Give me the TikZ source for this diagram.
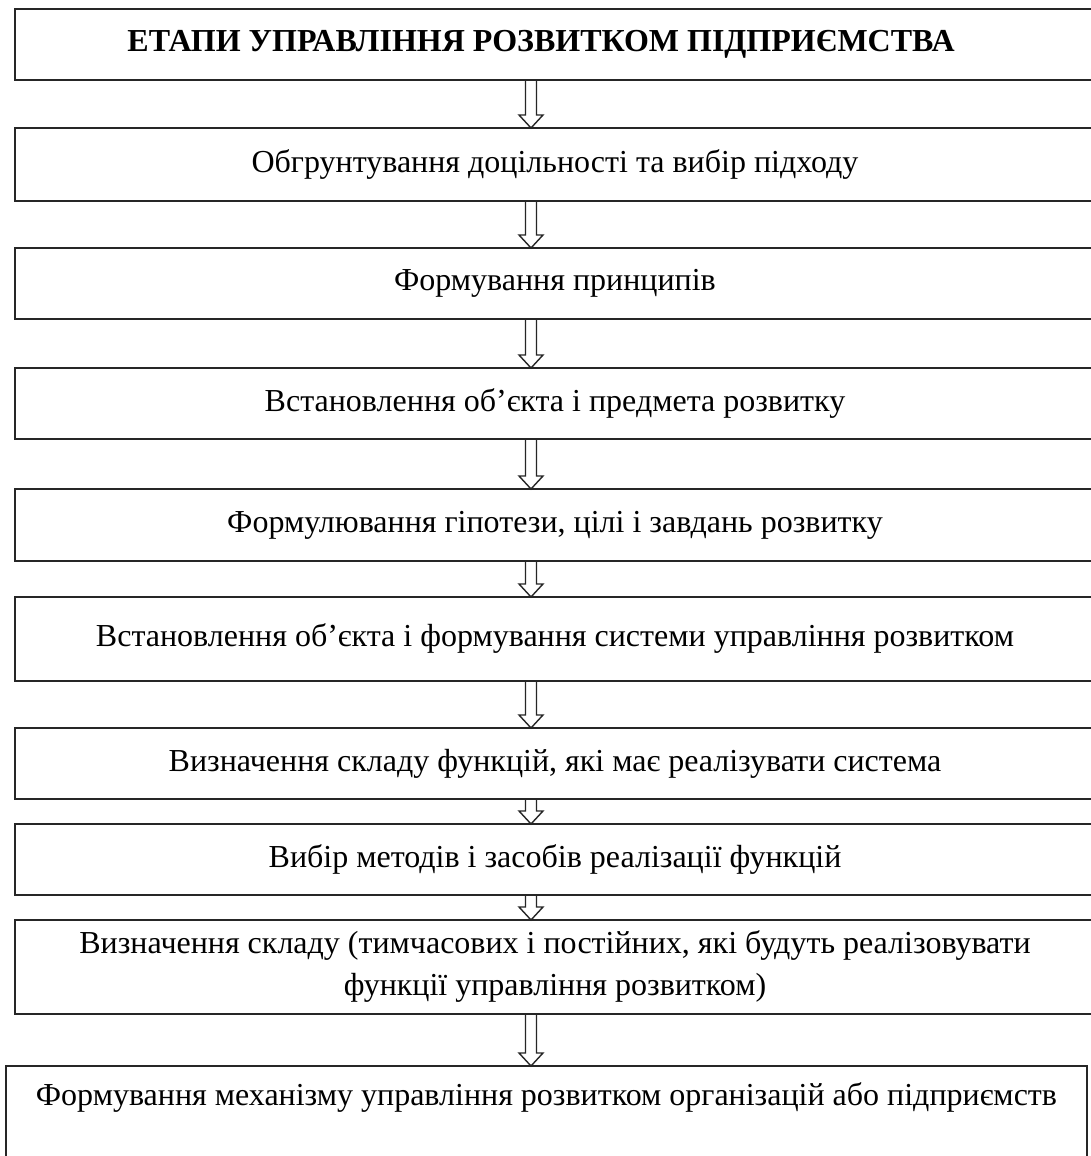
\documentclass[tikz,border=0pt]{standalone}
\usepackage{fontspec}
\setmainfont{Liberation Serif}
\usetikzlibrary{calc}
\newcommand{\hollowarrow}[2]{%
  \draw[harrow] ($(#1.south -| ax)+(-5.5,0)$) -- ($(#2.north -| ax)+(-5.5,13)$)
    -- ($(#2.north -| ax)+(-12,13)$) -- (#2.north -| ax)
    -- ($(#2.north -| ax)+(12,13)$) -- ($(#2.north -| ax)+(5.5,13)$)
    -- ($(#1.south -| ax)+(5.5,0)$);}
\begin{document}
\begin{tikzpicture}[x=1pt,y=1pt,
  box/.style={draw=black!85, line width=1.7pt, minimum width=1080pt, inner sep=0pt,
    outer sep=0pt, align=center, font=\fontsize{32}{42}\selectfont},
  txt/.style={inner sep=0pt, align=center, font=\fontsize{32}{42}\selectfont},
  harrow/.style={draw=black!85, line width=1.4pt, line join=miter}]
\clip (0,0) rectangle (1091,1156);
\fill[white] (0,0) rectangle (1091,1156);
\coordinate (ax) at (531,0);
\node[box, minimum height=71pt, font=\bfseries\fontsize{32}{42}\selectfont] (b1) at (555,1111.5)
  {\hspace*{-28pt}ЕТАПИ УПРАВЛІННЯ РОЗВИТКОМ ПІДПРИЄМСТВА};
\node[box, minimum height=73pt] (b2) at (555,991.5) {Обгрунтування доцільності та вибір підходу};
\node[box, minimum height=71pt] (b3) at (555,872.5) {Формування принципів};
\node[box, minimum height=71pt] (b4) at (555,752.5) {Встановлення об’єкта і предмета розвитку};
\node[box, minimum height=72pt] (b5) at (555,631) {Формулювання гіпотези, цілі і завдань розвитку};
\node[box, minimum height=84pt] (b6) at (555,517) {Встановлення об’єкта і формування системи управління розвитком};
\node[box, minimum height=71pt] (b7) at (555,392.5) {Визначення складу функцій, які має реалізувати система};
\node[box, minimum height=71pt] (b8) at (555,296.5) {Вибір методів і засобів реалізації функцій};
\node[box, minimum height=94pt] (b9) at (555,189)
  {Визначення складу (тимчасових і постійних, які будуть реалізовувати\\функції управління розвитком)};
\node[box, minimum width=1081pt, minimum height=200pt, anchor=north] (b10) at (546.5,90) {};
\node[txt] (t10) at (546.5,58) {Формування механізму управління розвитком організацій або підприємств};
\hollowarrow{b1}{b2}
\hollowarrow{b2}{b3}
\hollowarrow{b3}{b4}
\hollowarrow{b4}{b5}
\hollowarrow{b5}{b6}
\hollowarrow{b6}{b7}
\hollowarrow{b7}{b8}
\hollowarrow{b8}{b9}
\hollowarrow{b9}{b10}
\end{tikzpicture}
\end{document}
